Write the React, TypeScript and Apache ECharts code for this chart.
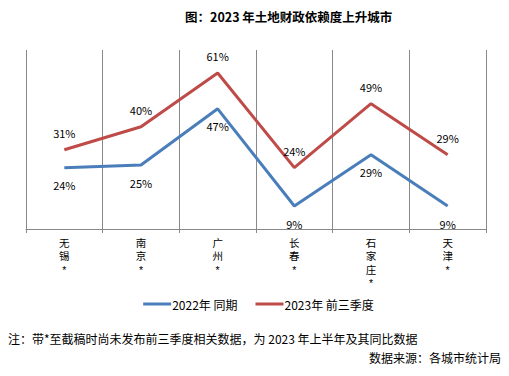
import React, { useEffect, useRef } from "react";
import * as echarts from "echarts";

const categories = ["无\n锡\n*", "南\n京\n*", "广\n州\n*", "长\n春\n*", "石\n家\n庄\n*", "天\n津\n*"];
const series2022 = [24, 25, 47, 9, 29, 9];
const series2023 = [31, 40, 61, 24, 49, 29];
const seriesNames = ["2022年 同期", "2023年 前三季度"];

export default function App() {
  const ref = useRef<HTMLDivElement>(null);
  useEffect(() => {
    const chart = echarts.init(ref.current!, null, { renderer: "svg" });
    const font = "'Noto Sans CJK SC', 'Noto Sans', sans-serif";
    const axisFont = "'Liberation Sans', 'Noto Sans CJK SC', sans-serif";
    chart.setOption({
      animation: false,
      textStyle: { fontFamily: font },
      title: {
        text: "图：2023 年土地财政依赖度上升城市",
        left: 177,
        top: 2,
        padding: 0,
        textStyle: { fontSize: 12.5, fontWeight: "bold", color: "#000", fontFamily: font },
      },
      legend: {
        bottom: 61,
        left: "center",
        itemWidth: 28,
        itemHeight: 3,
        itemGap: 18,
        icon: "rect",
        textStyle: { fontSize: 12, color: "#000", fontFamily: font, padding: [0, 0, 0, -4] },
        data: seriesNames,
      },
      grid: { left: 18, right: 23, top: 42, bottom: 147 },
      xAxis: {
        type: "category",
        data: categories,
        boundaryGap: true,
        axisLine: { lineStyle: { color: "#888", width: 1 } },
        axisTick: { show: true, length: 4, lineStyle: { color: "#888" } },
        splitLine: { show: true, lineStyle: { color: "#888", width: 1 } },
        axisLabel: { fontSize: 10.5, color: "#000", lineHeight: 13.5, margin: 7, fontFamily: axisFont },
      },
      yAxis: {
        type: "value",
        min: 0,
        max: 70,
        show: false,
        splitLine: { show: false },
      },
      series: [
        {
          name: seriesNames[0],
          type: "line",
          data: series2022,
          symbol: "circle",
          symbolSize: 0.1,
          showSymbol: true,
          lineStyle: { color: "#4a7ebb", width: 3 },
          itemStyle: { color: "#4a7ebb" },
          label: {
            show: true,
            position: "bottom",
            distance: 12,
            formatter: "{c}%",
            fontSize: 11,
            color: "#000",
            fontFamily: font,
          },
        },
        {
          name: seriesNames[1],
          type: "line",
          data: series2023,
          symbol: "circle",
          symbolSize: 0.1,
          showSymbol: true,
          lineStyle: { color: "#be4b48", width: 3 },
          itemStyle: { color: "#be4b48" },
          label: {
            show: true,
            position: "top",
            distance: 11,
            formatter: "{c}%",
            fontSize: 11,
            color: "#000",
            fontFamily: font,
          },
        },
      ],
      graphic: [
        {
          type: "text",
          x: 0,
          y: 324,
          style: {
            text: "注：带*至截稿时尚未发布前三季度相关数据，为 2023 年上半年及其同比数据",
            fontSize: 12,
            fill: "#000",
            fontFamily: font,
          },
        },
        {
          type: "text",
          x: 493,
          y: 343,
          style: {
            text: "数据来源：各城市统计局",
            fontSize: 12,
            fill: "#000",
            fontFamily: font,
            align: "right",
          },
        },
      ],
    });
    return () => chart.dispose();
  }, []);
  return <div ref={ref} style={{ width: 501, height: 368 }} />;
}
